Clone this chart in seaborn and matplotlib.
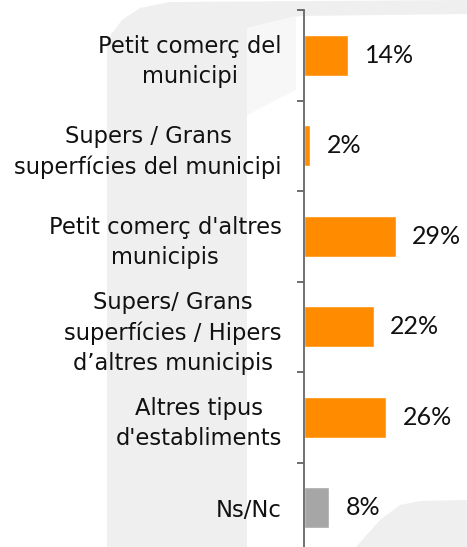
import numpy as np
import pandas as pd
import matplotlib
matplotlib.use("Agg")
import matplotlib.pyplot as plt
from matplotlib.patches import Polygon
import seaborn as sns

# ---- data ----
categories = [
    "Petit comerç del\nmunicipi",
    "Supers / Grans\nsuperfícies del municipi",
    "Petit comerç d'altres\nmunicipis",
    "Supers/ Grans\nsuperfícies / Hipers\nd’altres municipis",
    "Altres tipus\nd'establiments",
    "Ns/Nc",
]
values = [14, 2, 29, 22, 26, 8]
value_labels = ["14%", "2%", "29%", "22%", "26%", "8%"]
bar_colors = ["#FF8C00", "#FF8C00", "#FF8C00", "#FF8C00", "#FF8C00", "#A6A6A6"]

df = pd.DataFrame({"cat": categories, "val": values})

sns.set_theme(style="white")
plt.rcParams["font.family"] = ["DejaVu Sans"]

W, H = 467, 547
fig = plt.figure(figsize=(W / 100, H / 100), dpi=100)
fig.patch.set_facecolor("white")

# faint background watermark shapes
def px_poly(pts, color):
    p = Polygon([(x / W, 1 - y / H) for x, y in pts], closed=True,
                transform=fig.transFigure, facecolor=color, edgecolor="none",
                zorder=-5)
    fig.patches.append(p)

px_poly([(107, 547), (107, 40), (122, 20), (140, 8), (170, 2), (467, 0),
         (467, 14), (300, 16), (247, 28), (247, 547)], "#EFEFEF")
px_poly([(247, 28), (296, 16), (296, 90), (247, 115)], "#F7F7F7")
px_poly([(356, 547), (380, 520), (400, 505), (420, 501), (467, 500),
         (467, 547)], "#EFEFEF")

ax = fig.add_axes([304 / W, -6 / H, (462 - 304) / W, 543 / H])
ax.set_facecolor("none")
ax.set_zorder(1)

sns.barplot(data=df, x="val", y="cat", hue="cat", palette=bar_colors,
            width=0.45, orient="h", legend=False, ax=ax, saturation=1)

for cont, lab in zip(ax.containers, value_labels):
    ax.bar_label(cont, labels=[lab], padding=12, fontsize=18, color="#111111",
                 family=["Lato", "DejaVu Sans"])

ax.set_xlim(0, 50)
ax.set_ylim(5.5, -0.5)
ax.set_xlabel("")
ax.set_ylabel("")
ax.set_xticks([])

ax.set_yticks(range(len(categories)))
ax.set_yticklabels(categories, fontsize=16.3, color="#111111",
                   ha="right", multialignment="center", linespacing=1.4)
ax.set_yticks(np.arange(-0.5, len(categories), 1), minor=True)
ax.tick_params(axis="y", which="major", length=0, pad=16)
ax.tick_params(axis="y", which="minor", length=5, width=1.2, color="#555555",
               left=True)

for s in ["top", "right", "bottom"]:
    ax.spines[s].set_visible(False)
ax.spines["left"].set_color("#666666")
ax.spines["left"].set_linewidth(1.3)

fig.savefig("out.png", dpi=100)
